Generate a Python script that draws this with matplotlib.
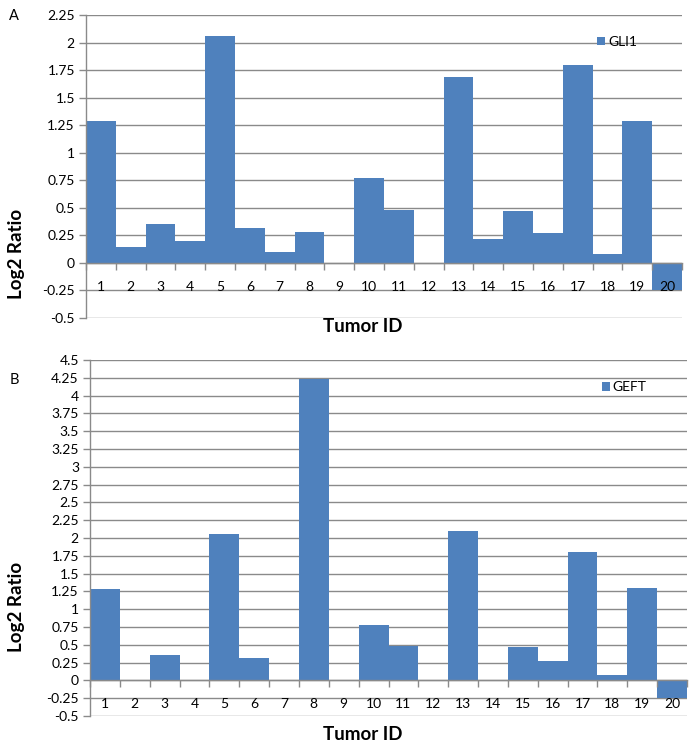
import matplotlib
matplotlib.use("Agg")
import matplotlib.pyplot as plt
import numpy as np

tumor_ids = [str(i) for i in range(1, 21)]
gli1 = [1.29, 0.14, 0.35, 0.20, 2.06, 0.32, 0.10, 0.28, 0.0, 0.77,
        0.48, 0.0, 1.69, 0.22, 0.47, 0.27, 1.80, 0.08, 1.29, -0.25]
geft = [1.29, 0.0, 0.35, 0.0, 2.06, 0.31, 0.0, 4.24, 0.0, 0.78,
        0.48, 0.0, 2.10, 0.0, 0.47, 0.27, 1.81, 0.08, 1.30, -0.25]
yticks_a = [-0.5, -0.25, 0, 0.25, 0.5, 0.75, 1, 1.25, 1.5, 1.75, 2, 2.25]
yticks_b = [-0.5, -0.25, 0, 0.25, 0.5, 0.75, 1, 1.25, 1.5, 1.75, 2, 2.25,
            2.5, 2.75, 3, 3.25, 3.5, 3.75, 4, 4.25, 4.5]

plt.rcParams['font.family'] = ['Lato', 'DejaVu Sans']
BLUE = '#4F81BD'
GRID = '#8a8a8a'

fig = plt.figure(figsize=(6.95, 7.5), dpi=100)
W, H = 695, 750


def make(ax_px, values, yticks, label):
    l, r, t, b = ax_px
    ax = fig.add_axes([l / W, 1 - b / H, (r - l) / W, (b - t) / H])
    x = np.arange(1, len(values) + 1)
    ax.bar(x, values, width=1.0, color=BLUE, zorder=1, label=label)
    ax.set_xlim(0.5, len(values) + 0.5)
    ax.set_ylim(yticks[0], yticks[-1])
    ax.set_yticks(yticks)
    ax.set_yticklabels([('%g' % v) for v in yticks], fontsize=10)
    for v in yticks:
        ax.axhline(v, color=GRID, lw=1.0, zorder=0.5)
    for s in ['top', 'right']:
        ax.spines[s].set_visible(False)
    ax.spines['left'].set_color(GRID)
    ax.spines['left'].set_linewidth(1.0)
    ax.spines['bottom'].set_position(('data', 0))
    ax.spines['bottom'].set_color(GRID)
    ax.spines['bottom'].set_linewidth(1.0)
    ax.spines['bottom'].set_zorder(3)
    ax.tick_params(axis='y', direction='out', length=5, color=GRID, width=1, pad=3)
    ax.set_xticks(np.arange(0.5, len(values) + 1, 1.0))
    ax.set_xticklabels([])
    ax.tick_params(axis='x', which='major', direction='out', length=5, color=GRID, width=1)
    ax.set_xticks(x, minor=True)
    ax.set_xticklabels(tumor_ids, minor=True, fontsize=10)
    ax.tick_params(axis='x', which='minor', length=0, pad=13)
    ax.xaxis.set_zorder(5)
    return ax


axA = make((86, 682, 15, 318), gli1, yticks_a, 'GLI1')
axB = make((90, 687, 360, 716), geft, yticks_b, 'GEFT')

for ax, (lx, ly) in [(axA, (0.857, 0.911)), (axB, (0.857, 0.924))]:
    ax.legend(loc='center left', bbox_to_anchor=(lx, ly), frameon=False,
              fontsize=10, handlelength=0.6, handleheight=0.6,
              handletextpad=0.2, borderaxespad=0, borderpad=0)

fig.text(14 / W, 1 - 16 / H, 'A', fontsize=10.5, ha='center', va='center')
fig.text(14 / W, 1 - 380 / H, 'B', fontsize=10.5, ha='center', va='center')
fig.text(17 / W, 1 - 254 / H, 'Log2 Ratio', fontsize=13.5, fontweight='bold',
         rotation=90, ha='center', va='center')
fig.text(17 / W, 1 - 607 / H, 'Log2 Ratio', fontsize=13.5, fontweight='bold',
         rotation=90, ha='center', va='center')
fig.text(363 / W, 1 - 327 / H, 'Tumor ID', fontsize=13.5, fontweight='bold',
         ha='center', va='center')
fig.text(363 / W, 1 - 735 / H, 'Tumor ID', fontsize=13.5, fontweight='bold',
         ha='center', va='center')

fig.savefig('out.png', dpi=100)
